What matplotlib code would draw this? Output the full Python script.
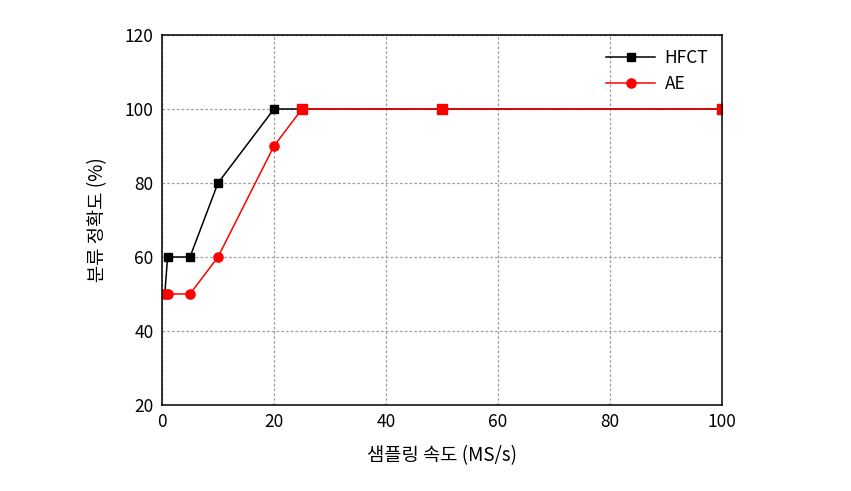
import matplotlib
matplotlib.use("Agg")
import matplotlib.pyplot as plt
import numpy as np

plt.rcParams['font.family'] = ['Noto Sans CJK KR', 'DejaVu Sans']

x_hfct = [0.5, 1, 5, 10, 20, 25, 50, 100]
y_hfct = [50, 60, 60, 80, 100, 100, 100, 100]
x_ae = [0.5, 1, 5, 10, 20, 25, 50, 100]
y_ae = [50, 50, 50, 60, 90, 100, 100, 100]
xticks = [0, 20, 40, 60, 80, 100]
yticks = [20, 40, 60, 80, 100, 120]

fig = plt.figure(figsize=(8.51, 4.91), dpi=100)
ax = fig.add_axes([162/851, 1-405/491, (722-162)/851, (405-35)/491])
ax.plot(x_hfct, y_hfct, color='black', marker='s', markersize=5.6, linewidth=1.1, label='HFCT', zorder=3)
ax.plot(x_ae, y_ae, color='#ff0000', marker='o', markersize=6.6, linewidth=1.1, label='AE', zorder=4)
# overlapping points at the plateau appear as red squares
xa = np.array(x_ae); ya = np.array(y_ae); yh = np.array(y_hfct)
mask = (ya == yh) & (ya == 100)
ax.plot(xa[mask], ya[mask], linestyle='none', marker='s', markersize=6.6,
        color='#ff0000', zorder=5)
ax.set_xlim(0, 100)
ax.set_ylim(20, 120)
ax.set_xticks(xticks)
ax.set_yticks(yticks)
ax.tick_params(length=0, labelsize=12.5, pad=6)
ax.grid(True, color='#a0a0a0', linestyle=(0, (2.2, 1.6)), linewidth=0.9)
ax.set_axisbelow(True)
for s in ax.spines.values():
    s.set_linewidth(1.1)
    s.set_zorder(6)
ax.set_xlabel('샘플링 속도 (MS/s)', fontsize=13.5, labelpad=10)
ax.set_ylabel('분류 정확도 (%)', fontsize=13.5, labelpad=12)
leg = ax.legend(loc='upper right', fontsize=12.5, frameon=False,
                handlelength=2.8, borderaxespad=0.4, labelspacing=0.45,
                handletextpad=0.55, bbox_to_anchor=(1.0, 1.0))
fig.savefig('out.png', dpi=100)
